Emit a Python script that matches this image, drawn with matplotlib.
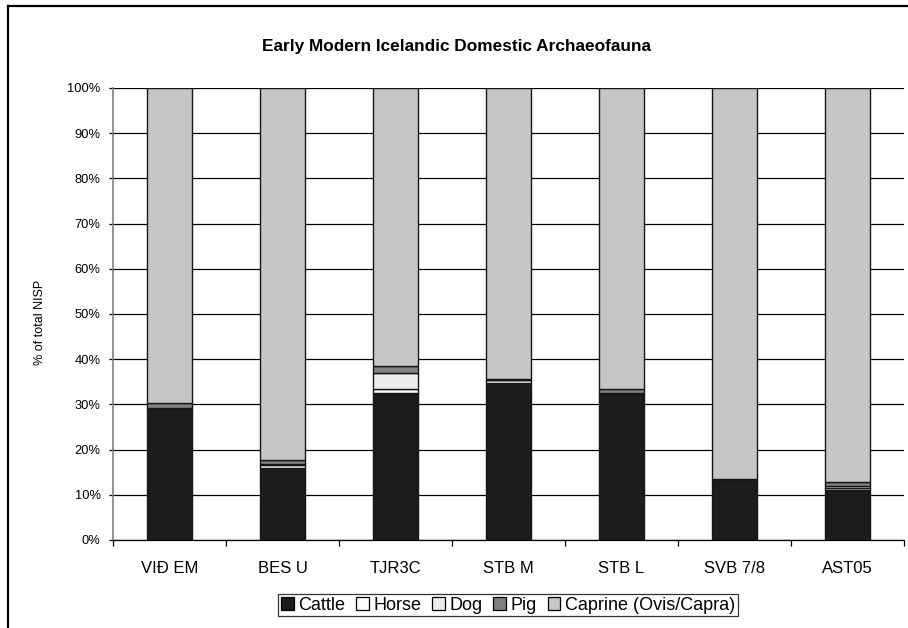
import matplotlib
matplotlib.use("Agg")
import matplotlib.pyplot as plt
from matplotlib.patches import Patch
from matplotlib.lines import Line2D
import numpy as np

plt.rcParams['font.family'] = ['Liberation Sans', 'DejaVu Sans']

sites = ["VIÐ EM", "BES U", "TJR3C", "STB M", "STB L", "SVB 7/8", "AST05"]
cattle = [28.9, 15.9, 32.6, 34.8, 32.4, 13.5, 11.1]
horse = [0.3, 0.6, 0.9, 0.6, 0.1, 0.0, 0.5]
dog = [0.1, 0.3, 3.4, 0.1, 0.1, 0.0, 0.4]
pig = [0.9, 0.9, 1.7, 0.2, 0.7, 0.1, 0.8]
caprine = [69.8, 82.3, 61.4, 64.3, 66.7, 86.4, 87.2]

series = [("Cattle", cattle, "#1c1c1c"),
          ("Horse", horse, "#fafafa"),
          ("Dog", dog, "#ececec"),
          ("Pig", pig, "#808080"),
          ("Caprine (Ovis/Capra)", caprine, "#c6c6c6")]

W, H = 908, 628
fig = plt.figure(figsize=(W / 100, H / 100), dpi=100)
ax = fig.add_axes([113 / W, 1 - 540 / H, 791 / W, 452 / H])

x = np.arange(len(sites))
bottom = np.zeros(len(sites))
for name, vals, col in series:
    v = np.array(vals, dtype=float)
    ax.bar(x, v, width=0.4, bottom=bottom, color=col, edgecolor="#151515",
           linewidth=1.0, zorder=3)
    bottom += v

ax.set_xlim(-0.5, len(sites) - 0.5)
ax.set_ylim(0, 100)
ax.set_yticks(np.arange(0, 101, 10))
ax.set_yticklabels([f"{v}%" for v in range(0, 101, 10)], fontsize=9.3)
ax.yaxis.grid(True, color="black", linewidth=0.9, zorder=0)
ax.tick_params(axis="y", direction="out", length=3, width=0.9, pad=6, color="black")

ax.set_xticks(np.arange(-0.5, len(sites)), minor=False)
ax.set_xticklabels([])
ax.set_xticks(x, minor=True)
ax.set_xticklabels(sites, minor=True, fontsize=12)
ax.tick_params(axis="x", which="major", direction="out", length=4, width=0.9, color="black")
ax.tick_params(axis="x", which="minor", length=0, pad=15)

for s in ["top", "right"]:
    ax.spines[s].set_visible(False)
ax.spines["left"].set_color("#808080")
ax.spines["left"].set_linewidth(1.2)
ax.spines["bottom"].set_color("black")
ax.spines["bottom"].set_linewidth(0.9)

fig.text(40 / W, 1 - 322 / H, "% of total NISP", rotation=90, ha="center",
         va="center", fontsize=9)
fig.text(456 / W, 1 - 46 / H, "Early Modern Icelandic Domestic Archaeofauna",
         ha="center", va="center", fontsize=12.4, fontweight="bold")

handles = [Patch(facecolor=c, edgecolor="black", linewidth=0.9) for _, _, c in series]
labels = [n for n, _, _ in series]
leg = fig.legend(handles, labels, loc="center", bbox_to_anchor=(508 / W, 1 - 605 / H),
                 ncol=5, fontsize=13, frameon=True, fancybox=False,
                 handlelength=0.7, handleheight=0.7, handletextpad=0.25,
                 columnspacing=0.6, borderpad=0.15, borderaxespad=0)
leg.get_frame().set_edgecolor("black")
leg.get_frame().set_linewidth(0.9)

# outer chart frame (top and left visible)
fig.add_artist(Line2D([8 / W, 1.0], [1 - 6 / H, 1 - 6 / H], transform=fig.transFigure,
                      color="black", linewidth=1.6))
fig.add_artist(Line2D([8 / W, 8 / W], [0.0, 1 - 6 / H], transform=fig.transFigure,
                      color="black", linewidth=1.6))

fig.savefig("out.png", dpi=100)
